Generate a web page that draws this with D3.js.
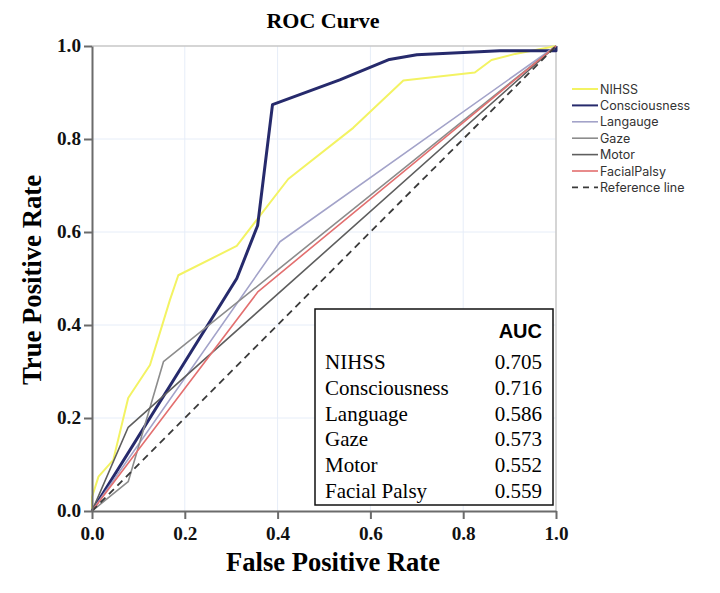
<!DOCTYPE html>
<html>
<head>
<meta charset="utf-8">
<script src="https://cdn.jsdelivr.net/npm/d3@7"></script>
<style>
  body { margin: 0; background: #fff; }
  svg { display: block; }
</style>
</head>
<body>
<div id="chart"></div>
<script>
const width = 720;
const height = 593;

// ROC points, as [fpr, tpr]
const nihss = [[0, 0], [0, 0.03], [0.014, 0.074], [0.046, 0.11], [0.078, 0.243], [0.125, 0.314], [0.168, 0.454],
  [0.186, 0.507], [0.312, 0.57], [0.355, 0.626], [0.423, 0.714], [0.563, 0.824], [0.671, 0.926],
  [0.825, 0.943], [0.861, 0.97], [0.912, 0.983], [1, 1]];
const consciousness = [[0, 0], [0.312, 0.5], [0.357, 0.614], [0.389, 0.874], [0.534, 0.927], [0.641, 0.971],
  [0.70, 0.981], [0.879, 0.99], [1, 0.99], [1, 1]];
const language = [[0, 0], [0.405, 0.579], [1, 1]];
const gaze = [[0, 0], [0.078, 0.063], [0.154, 0.321], [1, 1]];
const motor = [[0, 0], [0.078, 0.18], [1, 1]];
const facialPalsy = [[0, 0], [0.358, 0.472], [1, 1]];
const reference = [[0, 0], [1, 1]];

const legendNames = ["NIHSS", "Consciousness", "Langauge", "Gaze", "Motor", "FacialPalsy", "Reference line"];
const aucNames = ["NIHSS", "Consciousness", "Language", "Gaze", "Motor", "Facial Palsy"];
const aucValues = ["0.705", "0.716", "0.586", "0.573", "0.552", "0.559"];
const ticks = [0, 0.2, 0.4, 0.6, 0.8, 1.0];

const series = [
  { data: nihss, color: "#f3f363", w: 2 },
  { data: consciousness, color: "#262a6c", w: 3 },
  { data: language, color: "#a3a3c9", w: 1.6 },
  { data: gaze, color: "#8c8c8c", w: 1.6 },
  { data: motor, color: "#5e5e5e", w: 1.6 },
  { data: facialPalsy, color: "#e36f6f", w: 1.6 },
  { data: reference, color: "#3a3a3a", w: 1.8, dash: "7,5" }
];

const x = d3.scaleLinear().domain([0, 1]).range([92, 556]);
const y = d3.scaleLinear().domain([0, 1]).range([511, 46]);

const svg = d3.select("#chart").append("svg")
  .attr("width", width)
  .attr("height", height);

// faint grid
svg.append("g").selectAll("line.gx")
  .data(ticks.slice(1, 5))
  .enter().append("line")
  .attr("x1", d => x(d)).attr("x2", d => x(d))
  .attr("y1", y(0)).attr("y2", y(1))
  .attr("stroke", "#e6edf8").attr("stroke-width", 1);
svg.append("g").selectAll("line.gy")
  .data(ticks.slice(1, 5))
  .enter().append("line")
  .attr("x1", x(0)).attr("x2", x(1))
  .attr("y1", d => y(d)).attr("y2", d => y(d))
  .attr("stroke", "#e6edf8").attr("stroke-width", 1);

// top / right frame
svg.append("path")
  .attr("d", `M${x(0)},${y(1)}H${x(1)}V${y(0)}`)
  .attr("fill", "none").attr("stroke", "#c8c8c8").attr("stroke-width", 1.5);

// curves
const line = d3.line().x(d => x(d[0])).y(d => y(d[1]));
svg.append("g").selectAll("path")
  .data(series)
  .enter().append("path")
  .attr("d", d => line(d.data))
  .attr("fill", "none")
  .attr("stroke", d => d.color)
  .attr("stroke-width", d => d.w)
  .attr("stroke-dasharray", d => d.dash || null)
  .attr("stroke-linejoin", "round");

// axes
const xAxis = svg.append("g")
  .attr("transform", `translate(0,${y(0)})`)
  .call(d3.axisBottom(x).tickValues(ticks).tickFormat(d3.format(".1f")).tickSize(8).tickSizeOuter(0).tickPadding(8));
const yAxis = svg.append("g")
  .attr("transform", `translate(${x(0)},0)`)
  .call(d3.axisLeft(y).tickValues(ticks).tickFormat(d3.format(".1f")).tickSize(8).tickSizeOuter(0).tickPadding(3));
[xAxis, yAxis].forEach(a => {
  a.select(".domain").attr("stroke", "#6b6b6b").attr("stroke-width", 2);
  a.selectAll(".tick line").attr("stroke", "#6b6b6b").attr("stroke-width", 2);
  a.selectAll(".tick text")
    .attr("fill", "#111")
    .style("font-family", "'Liberation Serif', serif")
    .style("font-weight", "bold")
    .style("font-size", "18px")
    .attr("textLength", 24).attr("lengthAdjust", "spacingAndGlyphs");
});

// titles
svg.append("text")
  .attr("x", 323).attr("y", 28)
  .attr("text-anchor", "middle")
  .style("font-family", "'Liberation Serif', serif")
  .style("font-weight", "bold")
  .style("font-size", "22px")
  .text("ROC Curve");

svg.append("text")
  .attr("x", 333).attr("y", 571)
  .attr("text-anchor", "middle")
  .attr("textLength", 214).attr("lengthAdjust", "spacingAndGlyphs")
  .style("font-family", "'Liberation Serif', serif")
  .style("font-weight", "bold")
  .style("font-size", "27px")
  .text("False Positive Rate");

svg.append("text")
  .attr("transform", "translate(41,280) rotate(-90)")
  .attr("text-anchor", "middle")
  .attr("textLength", 210).attr("lengthAdjust", "spacingAndGlyphs")
  .style("font-family", "'Liberation Serif', serif")
  .style("font-weight", "bold")
  .style("font-size", "27px")
  .text("True Positive Rate");

// legend
const legend = svg.append("g").attr("transform", "translate(572,89)");
const item = legend.selectAll("g")
  .data(series)
  .enter().append("g")
  .attr("transform", (d, i) => `translate(0,${i * 16.4})`);
item.append("line")
  .attr("x1", 0).attr("x2", 26)
  .attr("stroke", d => d.color)
  .attr("stroke-width", d => Math.min(d.w, 2))
  .attr("stroke-dasharray", d => d.dash ? "6,5" : null);
item.append("text")
  .attr("x", 28).attr("y", 4.5)
  .attr("fill", "#333")
  .style("font-family", "Inter, sans-serif")
  .style("font-size", "12.5px")
  .text((d, i) => legendNames[i]);

// AUC box
const box = svg.append("g");
box.append("rect")
  .attr("x", 315).attr("y", 309)
  .attr("width", 238).attr("height", 196)
  .attr("fill", "#fff").attr("stroke", "#111").attr("stroke-width", 1.5);
box.append("text")
  .attr("x", 542).attr("y", 338)
  .attr("text-anchor", "end")
  .style("font-family", "'Liberation Sans', Arial, sans-serif")
  .style("font-weight", "bold")
  .style("font-size", "20px")
  .text("AUC");
box.selectAll("text.n")
  .data(aucNames)
  .enter().append("text")
  .attr("x", 325).attr("y", (d, i) => 369 + i * 25.8)
  .style("font-family", "'Liberation Serif', serif")
  .style("font-size", "21px")
  .text(d => d);
box.selectAll("text.v")
  .data(aucValues)
  .enter().append("text")
  .attr("x", 542).attr("y", (d, i) => 369 + i * 25.8)
  .attr("text-anchor", "end")
  .style("font-family", "'Liberation Serif', serif")
  .style("font-size", "21px")
  .text(d => d);
</script>
</body>
</html>
